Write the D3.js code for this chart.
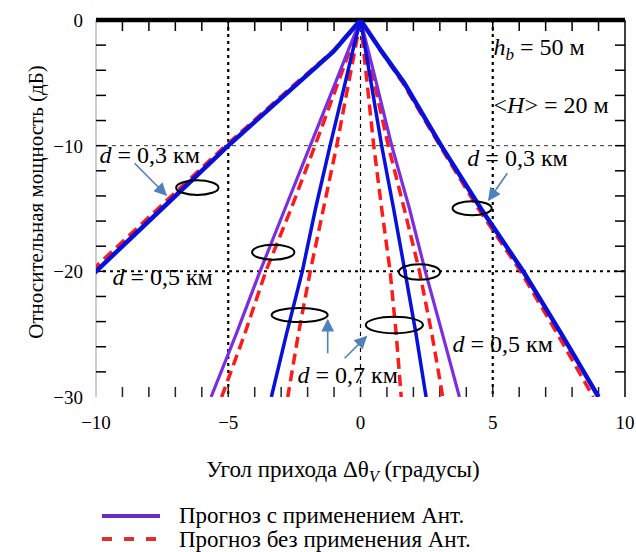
<!DOCTYPE html>
<html>
<head>
<meta charset="utf-8">
<script src="https://cdn.jsdelivr.net/npm/d3@7"></script>
<style>
  body { margin: 0; background: #fff; }
  svg { display: block; font-family: "Liberation Serif", "DejaVu Serif", serif; }
</style>
</head>
<body>
<div id="chart"></div>
<script>
// power levels (dB) at which each curve's arrival angle is read
const levels = [0, -2.5, -5, -10, -15, -20, -25, -30];

// arrival angles (degrees) per curve
const blueOuterLeft  = [0, -1.02, -2.35, -5.0, -7.5, -10.0, -12.5, -15.0];
const redOuterLeft   = [0, -1.05, -2.42, -5.1, -7.65, -10.2, -12.75, -15.3];
const blueOuterRight = [0, 0.8, 1.65, 3.05, 4.55, 6.15, 7.6, 9.0];
const redOuterRight  = [0, 0.78, 1.6, 3.0, 4.45, 6.05, 7.45, 8.8];
const purpleLeft     = [0, -0.48, -0.95, -1.9, -2.85, -3.8, -4.7, -5.65];
const redMidLeft     = [0, -0.42, -0.85, -1.72, -2.62, -3.58, -4.38, -5.25];
const blueInnerLeft  = [0, -0.3, -0.58, -1.15, -1.7, -2.2, -2.8, -3.37];
const redInnerLeft   = [0, -0.22, -0.45, -0.9, -1.4, -1.9, -2.35, -2.75];
const redInnerRight  = [0, 0.12, 0.25, 0.5, 0.8, 1.12, 1.35, 1.54];
const blueInnerRight = [0, 0.2, 0.4, 0.8, 1.25, 1.68, 2.1, 2.48];
const redMidRight    = [0, 0.26, 0.52, 1.05, 1.65, 2.23, 2.7, 3.11];
const purpleRight    = [0, 0.3, 0.6, 1.18, 1.85, 2.45, 3.1, 3.74];

const xTickLabels = [-10, -5, 0, 5, 10];
const yTickLabels = [0, -10, -20, -30];

// annotation ellipses: centre angle, centre dB, half-width (deg), half-height (dB)
const ellipseX  = [-6.17, 4.22, -3.3, -2.3, 1.28, 2.23];
const ellipseY  = [-13.34, -14.98, -18.48, -23.47, -24.27, -20.05];
const ellipseRx = [0.8, 0.74, 0.8, 1.06, 1.08, 0.78];
const ellipseRy = [0.58, 0.56, 0.6, 0.56, 0.66, 0.62];

// annotation arrows: start (x, y) -> tip (x, y)
const arrowX1 = [-8.54, 5.55, -1.24, -0.6];
const arrowY1 = [-11.4, -12.2, -26.52, -26.92];
const arrowX2 = [-7.35, 4.85, -1.24, 0.22];
const arrowY2 = [-13.93, -14.32, -23.87, -25.2];

// distance labels
const labelText = ["0,3", "0,3", "0,5", "0,7", "0,5"];
const labelX = [-9.87, 4.04, -9.38, -2.38, 3.48];
const labelY = [-11.38, -11.62, -21.09, -28.89, -26.42];

const legendLabels = ["Прогноз с применением Ант.", "Прогноз без применения Ант."];

const width = 636, height = 552;
const margin = { top: 20, right: 11, bottom: 155, left: 96 };
const plotW = width - margin.left - margin.right;
const plotH = height - margin.top - margin.bottom;

const x = d3.scaleLinear().domain([-10, 10]).range([margin.left, margin.left + plotW]);
const y = d3.scaleLinear().domain([0, -30]).range([margin.top, margin.top + plotH]);

const BLUE = "#0810dc", PURPLE = "#7a2ee0", RED = "#ff1a1a", ARROW = "#4f81bd";

const svg = d3.select("#chart").append("svg")
  .attr("width", width).attr("height", height);

const defs = svg.append("defs");
defs.append("clipPath").attr("id", "plot-clip")
  .append("rect")
  .attr("x", margin.left).attr("y", margin.top)
  .attr("width", plotW).attr("height", plotH);

defs.append("marker")
  .attr("id", "arrowhead")
  .attr("viewBox", "0 0 10 10")
  .attr("refX", 9).attr("refY", 5)
  .attr("markerWidth", 9).attr("markerHeight", 8)
  .attr("markerUnits", "strokeWidth")
  .attr("orient", "auto")
  .append("path").attr("d", "M0,0 L10,5 L0,10 Z").attr("fill", ARROW);

// grid lines
const grid = svg.append("g");
grid.append("line")
  .attr("x1", x(-10)).attr("x2", x(10)).attr("y1", y(-10)).attr("y2", y(-10))
  .attr("stroke", "#333").attr("stroke-width", 1).attr("stroke-dasharray", "4,4");
grid.append("line")
  .attr("x1", x(-10)).attr("x2", x(10)).attr("y1", y(-20)).attr("y2", y(-20))
  .attr("stroke", "#000").attr("stroke-width", 2).attr("stroke-dasharray", "3,4");
grid.selectAll(".vgrid").data([-5, 5]).join("line")
  .attr("x1", d => x(d)).attr("x2", d => x(d)).attr("y1", y(0)).attr("y2", y(-30))
  .attr("stroke", "#000").attr("stroke-width", 2.2).attr("stroke-dasharray", "3,4");
grid.append("line")
  .attr("x1", x(0)).attr("x2", x(0)).attr("y1", y(0)).attr("y2", y(-30))
  .attr("stroke", "#000").attr("stroke-width", 1.2).attr("stroke-dasharray", "4,4");

// frame and ticks
const frame = svg.append("g");
frame.append("line")
  .attr("x1", x(-10)).attr("x2", x(-10)).attr("y1", y(0)).attr("y2", y(-30))
  .attr("stroke", "#999").attr("stroke-width", 1);
frame.append("line")
  .attr("x1", x(10)).attr("x2", x(10)).attr("y1", y(0)).attr("y2", y(-30))
  .attr("stroke", "#000").attr("stroke-width", 1.5);

const xMinor = d3.range(-9, 10, 1);
const yMinor = d3.range(-2, -30, -2);
frame.selectAll(".ttop").data(xMinor).join("line")
  .attr("x1", d => x(d)).attr("x2", d => x(d)).attr("y1", y(0)).attr("y2", y(0) + 11)
  .attr("stroke", "#000").attr("stroke-width", 1.5);
frame.selectAll(".tbot").data(xMinor).join("line")
  .attr("x1", d => x(d)).attr("x2", d => x(d)).attr("y1", y(-30)).attr("y2", y(-30) - 10)
  .attr("stroke", "#222").attr("stroke-width", 1.5);
frame.selectAll(".tleft").data(yMinor).join("line")
  .attr("x1", x(-10)).attr("x2", x(-10) + 10).attr("y1", d => y(d)).attr("y2", d => y(d))
  .attr("stroke", "#000").attr("stroke-width", 1.5);
frame.selectAll(".tright").data(yMinor).join("line")
  .attr("x1", x(10)).attr("x2", x(10) - 10).attr("y1", d => y(d)).attr("y2", d => y(d))
  .attr("stroke", "#000").attr("stroke-width", 1.5);

// curves
const line = d3.line().x(d => x(d[0])).y(d => y(d[1]));
const curves = svg.append("g").attr("clip-path", "url(#plot-clip)");
const pts = arr => arr.map((a, i) => [a, levels[i]]);

const redSeries = [redOuterLeft, redOuterRight, redMidLeft, redInnerLeft, redInnerRight, redMidRight];
const purpleSeries = [purpleLeft, purpleRight];
const blueOuter = [blueOuterLeft, blueOuterRight];
const blueInner = [blueInnerLeft, blueInnerRight];

curves.selectAll(".red").data(redSeries).join("path")
  .attr("d", d => line(pts(d))).attr("fill", "none")
  .attr("stroke", RED).attr("stroke-width", 3.5).attr("stroke-dasharray", "11,6");
curves.selectAll(".purple").data(purpleSeries).join("path")
  .attr("d", d => line(pts(d))).attr("fill", "none")
  .attr("stroke", PURPLE).attr("stroke-width", 3.2);
curves.selectAll(".blue-outer").data(blueOuter).join("path")
  .attr("d", d => line(pts(d))).attr("fill", "none")
  .attr("stroke", BLUE).attr("stroke-width", 4.5);
curves.selectAll(".blue-inner").data(blueInner).join("path")
  .attr("d", d => line(pts(d))).attr("fill", "none")
  .attr("stroke", BLUE).attr("stroke-width", 3.5);

// thick top border
frame.append("line")
  .attr("x1", x(-10)).attr("x2", x(10)).attr("y1", y(0)).attr("y2", y(0))
  .attr("stroke", "#000").attr("stroke-width", 4.5);

// tick labels
svg.selectAll(".xlab").data(xTickLabels).join("text")
  .attr("x", d => x(d)).attr("y", y(-30) + 32)
  .attr("text-anchor", "middle").attr("font-size", 19)
  .text(d => d < 0 ? "\u2212" + Math.abs(d) : d);
svg.selectAll(".ylab").data(yTickLabels).join("text")
  .attr("x", x(-10) - 13).attr("y", d => y(d) + 7)
  .attr("text-anchor", "end").attr("font-size", 19)
  .text(d => d < 0 ? "\u2212" + Math.abs(d) : d);

// axis titles
svg.append("text")
  .attr("transform", "translate(36, 202) rotate(-90)")
  .attr("dy", 7)
  .attr("text-anchor", "middle").attr("font-size", 21)
  .text("Относительная мощность (дБ)");
const xt = svg.append("text")
  .attr("x", 343).attr("y", 477).attr("text-anchor", "middle").attr("font-size", 23);
xt.append("tspan").text("Угол прихода Δθ");
xt.append("tspan").attr("font-style", "italic").attr("font-size", 16).attr("dy", 5).text("V");
xt.append("tspan").attr("dy", -5).text(" (градусы)");

// annotations: ellipses
svg.selectAll(".ell").data(ellipseX).join("ellipse")
  .attr("cx", (d, i) => x(d)).attr("cy", (d, i) => y(ellipseY[i]))
  .attr("rx", (d, i) => x(ellipseRx[i]) - x(0))
  .attr("ry", (d, i) => y(-ellipseRy[i]) - y(0))
  .attr("fill", "none").attr("stroke", "#000").attr("stroke-width", 2);

// annotations: arrows
svg.selectAll(".arr").data(arrowX1).join("line")
  .attr("x1", d => x(d)).attr("y1", (d, i) => y(arrowY1[i]))
  .attr("x2", (d, i) => x(arrowX2[i])).attr("y2", (d, i) => y(arrowY2[i]))
  .attr("stroke", ARROW).attr("stroke-width", 1.6)
  .attr("marker-end", "url(#arrowhead)");

// annotations: distance labels
const labs = svg.selectAll(".dlab").data(labelText).join("text")
  .attr("x", (d, i) => x(labelX[i])).attr("y", (d, i) => y(labelY[i]))
  .attr("font-size", 24);
labs.append("tspan").attr("font-style", "italic").text("d");
labs.append("tspan").text(d => " = " + d + " км");

const hb = svg.append("text").attr("x", x(5.03)).attr("y", y(-2.79)).attr("font-size", 24);
hb.append("tspan").attr("font-style", "italic").text("h");
hb.append("tspan").attr("font-style", "italic").attr("font-size", 17).attr("dy", 5).text("b");
hb.append("tspan").attr("dy", -5).text(" = 50 м");

const hh = svg.append("text").attr("x", x(5.03)).attr("y", y(-7.43)).attr("font-size", 24);
hh.append("tspan").text("<");
hh.append("tspan").attr("font-style", "italic").text("H");
hh.append("tspan").text("> = 20 м");

// legend
const legend = svg.append("g");
legend.append("line")
  .attr("x1", 102).attr("x2", 160).attr("y1", 516).attr("y2", 516)
  .attr("stroke", "#6a2cc0").attr("stroke-width", 4);
legend.append("line")
  .attr("x1", 102).attr("x2", 160).attr("y1", 539).attr("y2", 539)
  .attr("stroke", "#e0302a").attr("stroke-width", 4).attr("stroke-dasharray", "10,12");
legend.selectAll(".ltxt").data(legendLabels).join("text")
  .attr("x", 179).attr("y", (d, i) => 523 + i * 24)
  .attr("font-size", 23)
  .text(d => d);
</script>
</body>
</html>
